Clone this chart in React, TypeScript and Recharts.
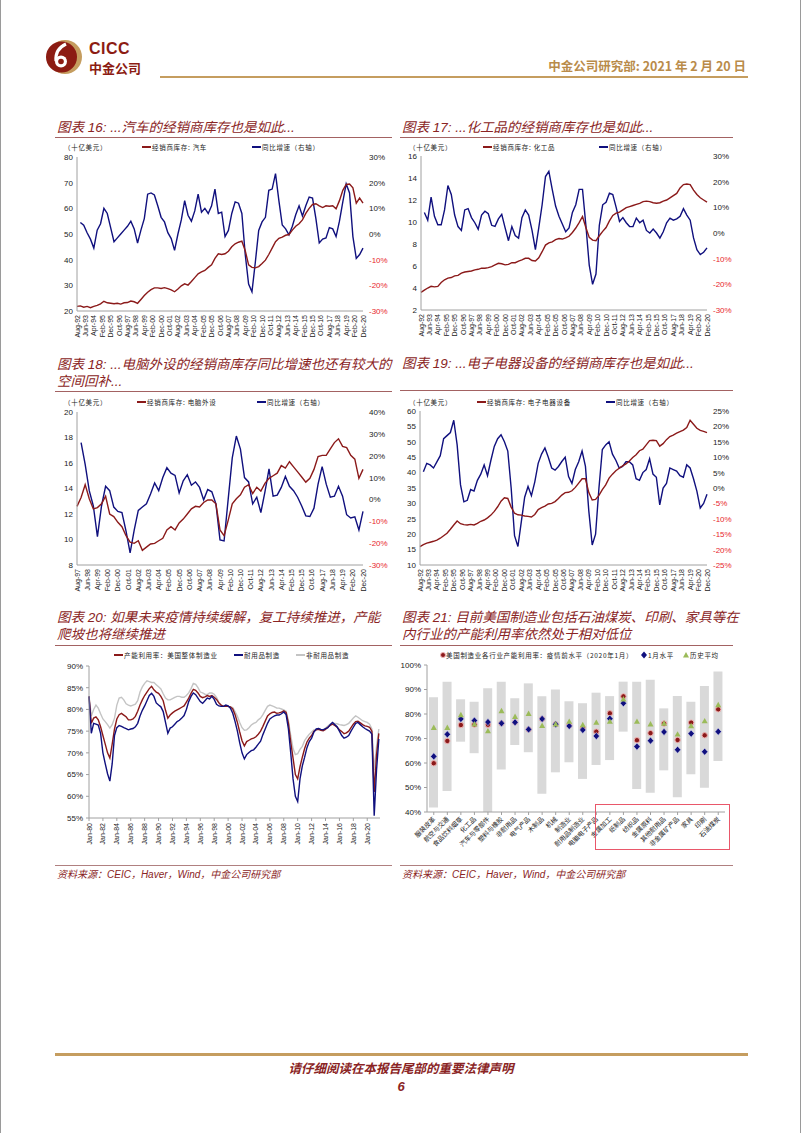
import React from 'react';
import { LineChart, Line, XAxis, YAxis, ComposedChart, Bar } from 'recharts';

const RED = '#8b1a1a';
const NAVY = '#10107e';
const GRAY = '#c4c4c4';
const TITLE = '#8a2424';
const GOLD = '#c59d5f';
const NEG = '#e8262d';
const AXIS = '#a0a0a0';
const FONT = "'Liberation Sans', Arial, 'Noto Sans CJK SC', sans-serif";
const CJK = "'Noto Sans CJK SC', 'Liberation Sans', sans-serif";

// x-axis labels (every 10 months / every 2 years)
const labels92 = ['Aug-92', 'Jun-93', 'Apr-94', 'Feb-95', 'Dec-95', 'Oct-96', 'Aug-97', 'Jun-98', 'Apr-99', 'Feb-00', 'Dec-00', 'Oct-01', 'Aug-02', 'Jun-03', 'Apr-04', 'Feb-05', 'Dec-05', 'Oct-06', 'Aug-07', 'Jun-08', 'Apr-09', 'Feb-10', 'Dec-10', 'Oct-11', 'Aug-12', 'Jun-13', 'Apr-14', 'Feb-15', 'Dec-15', 'Oct-16', 'Aug-17', 'Jun-18', 'Apr-19', 'Feb-20', 'Dec-20'];
const labels97 = ['Aug-97', 'Jun-98', 'Apr-99', 'Feb-00', 'Dec-00', 'Oct-01', 'Aug-02', 'Jun-03', 'Apr-04', 'Feb-05', 'Dec-05', 'Oct-06', 'Aug-07', 'Jun-08', 'Apr-09', 'Feb-10', 'Dec-10', 'Oct-11', 'Aug-12', 'Jun-13', 'Apr-14', 'Feb-15', 'Dec-15', 'Oct-16', 'Aug-17', 'Jun-18', 'Apr-19', 'Feb-20', 'Dec-20'];
const labels80 = ['Jan-80', 'Jan-82', 'Jan-84', 'Jan-86', 'Jan-88', 'Jan-90', 'Jan-92', 'Jan-94', 'Jan-96', 'Jan-98', 'Jan-00', 'Jan-02', 'Jan-04', 'Jan-06', 'Jan-08', 'Jan-10', 'Jan-12', 'Jan-14', 'Jan-16', 'Jan-18', 'Jan-20'];

// 图表16 汽车 - sampled every 4 months from Aug-92
const autoInv = [21.8, 22, 21.5, 21.8, 21.3, 21.8, 22.2, 22.8, 23.8, 23.2,
  23, 22.8, 23, 22.7, 23.2, 23.3, 23.9, 23.6, 23, 24.5,
  26, 27.3, 28.3, 29, 29, 28.8, 29.1, 28.7, 28.2, 27.5,
  28.6, 29.8, 30.6, 30.1, 31.5, 33, 34.5, 35.2, 35.8, 37,
  38, 40.5, 42.3, 42, 42.3, 43.3, 45, 46.2, 46.8, 47.2,
  43.5, 38, 37, 36.8, 37.3, 38.5, 39.8, 42, 44.5, 47,
  48.3, 48.8, 49.5, 49.8, 51.5, 53, 54, 55.5, 58, 60,
  61.5, 61.8, 61, 60.3, 61, 60.8, 61, 59.8, 63, 67,
  69.3, 69.5, 68, 62, 64, 62];
const autoYoy = [null, 4.5, 3.4, 0.5, -2, -5.5, 1.5, 4, 10, 8,
  2.5, -3, -1.5, 0, 1.5, 3, 5, 2, -3.5, 1.5,
  6, 15.5, 16, 15.2, 11, 6.5, 4.7, 0.5, -1.8, -6.4,
  0, 5.5, 13, 7.3, 5, 9, 15.5, 8.5, 10, 8,
  11, 17.5, 8, 8.5, -1, 1.4, 8, 12.5, 12, 8,
  -8, -19.5, -22.5, -11, 1.4, 4.7, 6.5, 17, 17.5, 23.5,
  13, 3.5, 2, -0.3, 3, 7.5, 11, 7, 11, 14.4,
  14, 6, -3.5, -2, -1.5, 2.5, 2, -1, 5, 12.5,
  19.5, 16, -1, -9.5, -8, -5.5];

// 图表17 化工品
const chemInv = [3.6, 3.8, 4, 4.15, 4.1, 4.15, 4.5, 4.75, 4.9, 4.95,
  5.1, 5.15, 5.35, 5.45, 5.5, 5.55, 5.65, 5.7, 5.8, 5.8,
  5.85, 5.95, 6.1, 6.25, 6.2, 6.1, 6.15, 6.3, 6.3, 6.45,
  6.55, 6.7, 6.7, 6.5, 6.45, 6.75, 7.3, 7.9, 8.1, 8.2,
  8.4, 8.5, 8.45, 8.55, 8.7, 9.05, 9.45, 9.95, 10.5, 9.5,
  8.6, 8.35, 8.3, 8.75, 9.15, 9.5, 10.1, 10.6, 10.8, 10.9,
  11.1, 11.3, 11.4, 11.5, 11.6, 11.7, 11.85, 11.9, 11.85, 11.75,
  11.7, 11.75, 11.9, 12, 12.2, 12.4, 12.6, 13.1, 13.4, 13.45,
  13.4, 12.9, 12.5, 12.2, 12, 11.8];
const chemYoy = [null, 8, 5, 14, 6.5, 3.2, 3.2, 9, 18.5, 15,
  7, 2.5, 1, 9, 9.5, 6, 4, 1.5, 7, 8.5,
  7.5, 3, 2.6, 5.5, 7.3, 2, -3, 2.5, -1, -2,
  6, 9, 7, 1, -6.5, 2, 11, 22, 24, 17,
  10.5, 6.5, 3.5, 0.5, 2, 8, 11, 17, 17, 3,
  -12.5, -20, -16, 3, 11, 12, 15.5, 15, 10, 4.5,
  6, 4, 2.5, 2.5, 5.8, 4, 5, 1, 0, 1.5,
  0, -2, 0.5, 4, 5.8, 5, 5.5, 6.5, 9.5, 7,
  5, -1.9, -6.5, -8.4, -7.5, -5.8];

// 图表18 电脑外设 - every 4 months from Aug-97
const pcInv = [12.6, 13.3, 14.3, 13.2, 12.4, 12.5, 12.8, 13.4, 12, 11.8,
  11.35, 11, 10.3, 9.8, 9.7, 9.9, 9.15, 9.4, 9.65, 9.7,
  9.9, 10.1, 10.75, 11, 10.75, 11.3, 11.6, 12, 12.4, 12.6,
  12.55, 12.9, 13.1, 13.1, 12.8, 10.75, 10.3, 11.5, 12.8, 13.2,
  13.5, 14.1, 14.3, 13.6, 14.1, 13.8, 14.4, 14.8, 15, 15.2,
  15.8, 15.6, 16.1, 15.7, 15.3, 14.9, 14.5, 14.8, 15.5, 16.5,
  16.6, 16.6, 17.1, 17.6, 17.9, 17.3, 17.2, 16.6, 16.3, 14.8,
  15.5];
const pcYoy = [null, 26, 16, 4, -3, -17, -3, 6, 4, -3.5,
  -5.5, -6, -14.5, -24.5, -14, -5, -3.5, -2, 2.5, 7.5,
  4, 10, 14.5, 12, 11, 3, 8.5, 11.3, 6.5, 8,
  5.5, -0.2, 4.5, 3.5, -2, -18.5, -19, 0, 19, 29,
  23, 10, 8, -2, 1, -6, 3.5, 14, 1.5, 2,
  5.5, 10.5, 6, 4, 1, -3, -7.5, -7.8, -4, 7,
  15, 7, 1, 1.5, 6, 1.5, -7, -8.5, -8, -14,
  -5.5];

// 图表19 电子电器设备
const elecInv = [16, 16.6, 17.1, 17.4, 17.7, 18.1, 18.7, 19.5, 20.3, 21.6,
  23, 24.3, 23.4, 23.1, 23, 23.2, 23, 23.5, 24.2, 24.6,
  25.3, 26.2, 27.4, 28.9, 30.7, 31.8, 31.6, 28.8, 26.8, 26.3,
  26.2, 25.9, 25.8, 25.6, 26.4, 28, 28.6, 29.1, 29.8, 30,
  30.6, 31.6, 32.7, 33.5, 33.6, 34.1, 35.2, 36.6, 38, 38,
  33.5, 31.1, 31.3, 32.6, 34.5, 36, 38.2, 39.5, 40.6, 41.4,
  42.2, 42.8, 43.8, 44.9, 45.8, 47.1, 47.6, 49, 50.4, 50.5,
  50.4, 48.6, 49.4, 50.7, 51.7, 52.2, 52.8, 53.3, 53.8, 54.6,
  57, 55.7, 54.4, 53.7, 53.4, 53];
const elecYoy = [null, 5.3, 8, 7.5, 6.5, 8.5, 10.5, 16, 17, 18,
  22, 14, 1, -4.5, -4, -0.5, -1, 2.5, 4.5, 7.5,
  4, 9, 13.5, 16, 17.3, 15, 12, 0, -15.5, -19,
  -11, -3, 0.5, -2.5, 2, 8, 11, 13, 10, 6.5,
  5.8, 7, 8.6, 10, 3.7, 1.5, 6, 8.5, 12, 7,
  -7.5, -18.5, -15, 0, 12.5, 14, 15, 11, 9, 6.5,
  7, 8.5, 8.5, 7.5, 3, 2.5, 5, 6, 9.5, 4.5,
  3.5, -5.5, 0, 1.5, 6.5, 6, 5.5, 4, 3.5, 7.5,
  6.5, 3, -1, -6.5, -5, -2];

// 图表20 产能利用率 - every 4 months from Jan-80
const cuTotal = [83, 76.8, 78, 78.3, 77.6, 76, 74, 72, 70, 68.8,
  72, 75.5, 77.8, 78.8, 79.1, 78.7, 78.3, 77.6, 77.6, 77.8,
  78.4, 79.6, 81, 82.2, 83.2, 84, 84.8, 85.3, 84.5, 84,
  83.7, 83, 82, 79.8, 78, 78.7, 79.2, 79.6, 79.9, 80.2,
  80.5, 80.8, 81.7, 82.6, 83.7, 84.6, 84.4, 83.8, 83, 82.7,
  82.9, 83.2, 83, 83.2, 82.8, 82.3, 81.5, 81, 80.7, 80.7,
  80.7, 80.6, 80.1, 78.8, 77, 74.8, 72.8, 71.6, 72.6, 72.9,
  73.2, 73.4, 73.7, 74.3, 75, 76.1, 77.3, 78.5, 79, 79.3,
  79.4, 79.1, 79.2, 79.4, 79.7, 79.3, 76.8, 72.5, 68.8, 65,
  64, 66.8, 69, 71, 72.5, 73.4, 74, 75, 75.3, 75.4,
  75.2, 75.1, 75.4, 75.9, 76.3, 76.6, 76.3, 75.9, 75.3, 74.9,
  74.4, 74.6, 75, 75.8, 76.6, 77.2, 77.3, 76.9, 76.5, 76.2,
  76.1, 75.9, 75, 61, 69.5, 74.5];
const cuDurable = [83, 74.5, 76.8, 76.6, 76.4, 74.5, 70, 67.5, 65.2, 63.5,
  67.5, 74, 75.8, 76.3, 76.1, 75.8, 75.6, 75.3, 75.5, 75.6,
  76, 76.8, 78.5, 79.8, 80.8, 82, 83.2, 83.7, 83, 81.5,
  81, 80.6, 79.5, 77, 74.5, 75.7, 76, 76.6, 77.2, 77.5,
  78, 78.6, 80, 81.8, 83, 83.8, 83.4, 82.6, 81.8, 81.4,
  82, 82.6, 82.4, 83, 82.3, 81.2, 80.8, 80.7, 80.7, 81,
  80.8, 80.3, 79.1, 77.2, 75, 72.3, 70, 68.6, 69.6, 70.1,
  70.5, 70.7, 71.3, 72, 72.7, 74.2, 75.5, 76.8, 77.8, 78.2,
  78.5, 78.7, 78.7, 79, 79.4, 78.8, 75.5, 70, 64, 60,
  58.8, 64, 67, 69, 71.2, 72.6, 73.4, 74.8, 75.5, 75.6,
  75.4, 75.3, 75.6, 75.8, 76.5, 77, 76.5, 76, 75, 74,
  73.4, 73.6, 74, 75, 75.9, 76.8, 77, 76.5, 76, 75.6,
  75.3, 75, 74.3, 55.5, 66, 73.2];
const cuNondurable = [83, 78.5, 80, 81, 80.3, 79, 77.8, 77.2, 76.5, 75.7,
  76.5, 78, 81, 82.6, 82.8, 82.2, 81.3, 81, 80.8, 81,
  81.2, 82, 84, 85.2, 86, 86.6, 86.4, 86.2, 86.2, 85.7,
  85.2, 84.7, 83.6, 82.6, 82.2, 82.2, 82.5, 82.8, 83, 83,
  82.8, 82.8, 83.2, 83.8, 84.8, 86, 85.8, 85, 84, 83.8,
  83.5, 83.4, 83.8, 83.8, 83.5, 82.8, 81.7, 80.8, 80.7, 80.7,
  80.7, 80.6, 80.4, 79.5, 78.4, 77, 75.8, 75.2, 75.3, 75.8,
  76.4, 76.8, 77, 77.6, 78, 78.8, 79.8, 80.7, 81, 80.8,
  80.6, 80.3, 80.3, 80.1, 79.9, 79.6, 77.5, 74, 71, 69.6,
  69.8, 70.8, 71.5, 72.8, 73.6, 74.3, 74.8, 75.3, 75.4, 75.6,
  75.3, 75.3, 75.7, 76.2, 76.6, 76.9, 76.8, 76.7, 76.5, 76.4,
  76.3, 76.5, 76.8, 77.4, 78, 78.5, 78.2, 77.8, 77.4, 77.2,
  77, 76.6, 75.5, 66, 71.5, 75.5];

// 图表21 各行业产能利用率
const industries = ['服装皮革', '航空与交通', '食品饮料烟草', '化工品', '汽车与零部件', '塑料与橡胶', '非耐用品', '电气产品', '木制品', '机械', '制造业', '耐用品制造业', '电脑电子产品', '金属加工', '纸制品', '纺织品', '金属原料', '其他耐用品', '非金属矿产品', '家具', '印刷', '石油煤炭'];
const histMin = [41.8, 48.6, 68.7, 64, 40, 57.3, 67.3, 64.4, 47.5, 56.2, 60.3, 53.5, 59.2, 61.2, 72.8, 49.4, 47.9, 57, 46, 55.4, 49.9, 60.8];
const histMax = [86.8, 93.2, 86, 85, 90.5, 93.2, 86.4, 92.5, 87.2, 90, 85.2, 84.4, 88.7, 87.3, 93.2, 93.2, 94, 82.3, 87.3, 85, 91.4, 97.3];
const preCovid = [59.9, 69, 75.5, 75.7, 75.6, 76.2, 76.6, 73.7, 78, 75.8, 75.3, 74.1, 72.8, 80.3, 87.2, 69.3, 72.2, 76.1, 69.4, 76.5, 71.3, 81.9];
const janLevel = [62.7, 71.7, 78, 77.3, 76.7, 76.2, 76.6, 73.7, 78, 75.8, 75.1, 73.5, 71, 78.1, 84.4, 66.7, 69.1, 72.7, 65.4, 72, 64.6, 72.8];
const histAvg = [74.4, 74.4, 79.6, 75.8, 73, 81.2, 78.9, 80.1, 75.2, 75.8, 76.9, 75.5, 76.5, 76.9, 86, 76.9, 75.8, 76.1, 71.7, 75.1, 77.1, 83.7];

function toRows(inv, yoy) {
  return inv.map((v, i) => ({ m: i * 4, inv: v, yoy: yoy[i] }));
}

const cuRows = cuTotal.map((v, i) => ({ m: i * 4, total: v, dur: cuDurable[i], non: cuNondurable[i] }));
const indRows = industries.map((name, i) => ({
  name, range: [histMin[i], histMax[i]], pre: preCovid[i], jan: janLevel[i], avg: histAvg[i],
}));

const MonthTick = (props: any) => {
  const { x, y, payload, labels, step } = props;
  const label = labels[Math.round(payload.value / step)];
  return (
    <text x={x} y={y} transform={`rotate(-90 ${x} ${y})`} textAnchor="end" dy={2.5}
      fontSize={7} fill="#222" fontFamily={FONT}>{label}</text>
  );
};

const PctTick = (props: any) => {
  const { x, y, payload } = props;
  const v = payload.value;
  return (
    <text x={x} y={y} dy={3} textAnchor="start" fontSize={8} fill={v < 0 ? NEG : '#222'} fontFamily={FONT}>{v}%</text>
  );
};

const SlantTick = (props: any) => {
  const { x, y, payload } = props;
  return (
    <text x={x} y={y} transform={`rotate(-45 ${x} ${y})`} textAnchor="end" dy={4} dx={-1}
      fontSize={6.5} fill="#222" fontFamily={CJK}>{payload.value}</text>
  );
};

function DualChart({ x, y, w, h, rows, xMax, labels, lDomain, lTicks, rDomain, rTicks }: any) {
  const xTicks = labels.map((_, i) => i * 10);
  return (
    <div style={{ position: 'absolute', left: x - 40, top: y - 8 }}>
      <LineChart width={w + 80} height={h + 8 + 40} data={rows} margin={{ top: 8, right: 0, bottom: 0, left: 0 }}>
        <XAxis dataKey="m" type="number" domain={[0, xMax]} ticks={xTicks} interval={0} height={40}
          tickLine={false} tickSize={2} tickMargin={2} axisLine={{ stroke: AXIS }}
          tick={<MonthTick labels={labels} step={10} />} />
        <YAxis yAxisId="l" domain={lDomain} ticks={lTicks} interval={0} width={40} allowDataOverflow
          tickLine={false} tickSize={2} tickMargin={2} axisLine={{ stroke: AXIS }}
          tick={{ fontSize: 8, fill: '#222', fontFamily: FONT }} />
        <YAxis yAxisId="r" orientation="right" domain={rDomain} ticks={rTicks} interval={0} width={40} allowDataOverflow
          tickLine={false} tickSize={4} tickMargin={2} axisLine={false} tick={<PctTick />} />
        <Line yAxisId="r" dataKey="yoy" stroke={NAVY} strokeWidth={1.4} dot={false} activeDot={false} isAnimationActive={false} />
        <Line yAxisId="l" dataKey="inv" stroke={RED} strokeWidth={1.4} dot={false} activeDot={false} isAnimationActive={false} />
      </LineChart>
    </div>
  );
}

const Title = ({ x, y, lines }: any) => (
  <div style={{ position: 'absolute', left: x, top: y, color: TITLE, fontSize: 13.5, fontStyle: 'italic',
    lineHeight: '17px', fontFamily: FONT, whiteSpace: 'nowrap' }}>
    {lines.map((l, i) => <div key={i}>{l}</div>)}
  </div>
);

const HLine = ({ x, y, w, color = '#a36262', h = 1 }: any) => (
  <div style={{ position: 'absolute', left: x, top: y, width: w, height: h, background: color }} />
);

const LegText = ({ x, y, text }: any) => (
  <div style={{ position: 'absolute', left: x, top: y - 6, lineHeight: '12px', fontSize: 6.5, letterSpacing: 0.7,
    color: '#222', fontFamily: CJK, whiteSpace: 'nowrap' }}>{text}</div>
);

const LegLine = ({ x, y, color, text }: any) => (
  <div style={{ position: 'absolute', left: x, top: y - 6, height: 12, display: 'flex', alignItems: 'center', whiteSpace: 'nowrap' }}>
    <span style={{ display: 'inline-block', width: 9, height: 2, background: color, marginRight: 1 }} />
    <span style={{ fontSize: 6.5, letterSpacing: 0.7, color: '#222', fontFamily: CJK }}>{text}</span>
  </div>
);

const redDot = (p: any) => (p.cx == null ? <g key={`r${p.index}`} /> :
  <circle key={`r${p.index}`} cx={p.cx} cy={p.cy} r={2.7} fill={RED} stroke="#f0b4b4" strokeWidth={1} />);
const navyDot = (p: any) => (p.cx == null ? <g key={`n${p.index}`} /> :
  <path key={`n${p.index}`} d={`M${p.cx},${p.cy - 3.6}L${p.cx + 3.2},${p.cy}L${p.cx},${p.cy + 3.6}L${p.cx - 3.2},${p.cy}Z`}
    fill={NAVY} stroke="#d6d6f4" strokeWidth={0.6} />);
const greenDot = (p: any) => (p.cx == null ? <g key={`g${p.index}`} /> :
  <path key={`g${p.index}`} d={`M${p.cx},${p.cy - 3.2}L${p.cx + 3},${p.cy + 2.2}L${p.cx - 3},${p.cy + 2.2}Z`} fill="#9bbb59" />);

export default function App() {
  return (
    <div style={{ position: 'absolute', left: 0, top: 0, width: 802, height: 1133, background: '#fff',
      overflow: 'hidden', fontFamily: FONT }}>
      {/* page edges */}
      <div style={{ position: 'absolute', left: 0, top: 0, width: 1, height: 1133, background: '#9a9a9a' }} />
      <div style={{ position: 'absolute', left: 800, top: 0, width: 1, height: 1133, background: '#9a9a9a' }} />

      {/* header */}
      <svg style={{ position: 'absolute', left: 46, top: 39 }} width={36} height={36} viewBox="0 0 36 36">
        <circle cx={19} cy={18} r={17} fill={GOLD} />
        <circle cx={15.5} cy={18} r={15.5} fill="#8c1c13" />
        <path d="M 10 22 Q 9 10 20 5" stroke="#fff" strokeWidth={3.2} fill="none" />
        <circle cx={15} cy={22.5} r={6} fill="#fff" />
        <circle cx={15} cy={22.5} r={2.8} fill="#8c1c13" />
      </svg>
      <div style={{ position: 'absolute', left: 89, top: 41, fontSize: 16, fontWeight: 700, color: '#8c1c13',
        fontFamily: "'Liberation Sans', sans-serif", lineHeight: '16px', letterSpacing: 0.5 }}>CICC</div>
      <div style={{ position: 'absolute', left: 89, top: 60, fontSize: 13, fontWeight: 700, color: '#8c1c13',
        fontFamily: CJK, lineHeight: '16px' }}>中金公司</div>
      <div style={{ position: 'absolute', right: 56, top: 58, fontSize: 12.5, fontWeight: 700, color: '#b98b4a',
        fontFamily: CJK, lineHeight: '16px', whiteSpace: 'nowrap' }}>中金公司研究部: 2021 年 2 月 20 日</div>
      <HLine x={160} y={76} w={588} h={2} color={GOLD} />

      {/* 图表16 */}
      <Title x={57} y={119} lines={['图表 16: ...汽车的经销商库存也是如此...']} />
      <HLine x={55} y={137} w={337} />
      <LegText x={64} y={147} text="（十亿美元）" />
      <LegLine x={142} y={147} color={RED} text="经销商库存: 汽车" />
      <LegLine x={252} y={147} color={NAVY} text="同比增速（右轴）" />
      <DualChart x={77} y={157} w={286} h={154} rows={toRows(autoInv, autoYoy)} xMax={340} labels={labels92}
        lDomain={[20, 80]} lTicks={[20, 30, 40, 50, 60, 70, 80]}
        rDomain={[-30, 30]} rTicks={[-30, -20, -10, 0, 10, 20, 30]} />

      {/* 图表17 */}
      <Title x={402} y={119} lines={['图表 17: ...化工品的经销商库存也是如此...']} />
      <HLine x={400} y={137} w={333} />
      <LegText x={409} y={147} text="（十亿美元）" />
      <LegLine x={483} y={147} color={RED} text="经销商库存: 化工品" />
      <LegLine x={599} y={147} color={NAVY} text="同比增速（右轴）" />
      <DualChart x={421} y={156} w={286} h={154} rows={toRows(chemInv, chemYoy)} xMax={340} labels={labels92}
        lDomain={[2, 16]} lTicks={[2, 4, 6, 8, 10, 12, 14, 16]}
        rDomain={[-30, 30]} rTicks={[-30, -20, -10, 0, 10, 20, 30]} />

      {/* 图表18 */}
      <Title x={57} y={356} lines={['图表 18: ...电脑外设的经销商库存同比增速也还有较大的', '空间回补...']} />
      <HLine x={55} y={391} w={337} />
      <LegText x={64} y={402} text="（十亿美元）" />
      <LegLine x={137} y={402} color={RED} text="经销商库存: 电脑外设" />
      <LegLine x={257} y={402} color={NAVY} text="同比增速（右轴）" />
      <DualChart x={77} y={412} w={286} h={153} rows={toRows(pcInv, pcYoy)} xMax={280} labels={labels97}
        lDomain={[8, 20]} lTicks={[8, 10, 12, 14, 16, 18, 20]}
        rDomain={[-30, 40]} rTicks={[-30, -20, -10, 0, 10, 20, 30, 40]} />

      {/* 图表19 */}
      <Title x={402} y={355} lines={['图表 19: ...电子电器设备的经销商库存也是如此...']} />
      <HLine x={400} y={390} w={333} />
      <LegText x={409} y={402} text="（十亿美元）" />
      <LegLine x={477} y={402} color={RED} text="经销商库存: 电子电器设备" />
      <LegLine x={606} y={402} color={NAVY} text="同比增速（右轴）" />
      <DualChart x={420} y={411} w={287} h={154} rows={toRows(elecInv, elecYoy)} xMax={340} labels={labels92}
        lDomain={[10, 60]} lTicks={[10, 15, 20, 25, 30, 35, 40, 45, 50, 55, 60]}
        rDomain={[-25, 25]} rTicks={[-25, -20, -15, -10, -5, 0, 5, 10, 15, 20, 25]} />

      {/* 图表20 */}
      <Title x={57} y={609} lines={['图表 20: 如果未来疫情持续缓解，复工持续推进，产能', '爬坡也将继续推进']} />
      <HLine x={55} y={645} w={337} />
      <LegLine x={114} y={655} color={RED} text="产能利用率：美国整体制造业" />
      <LegLine x={234} y={655} color={NAVY} text="耐用品制造" />
      <LegLine x={296} y={655} color={GRAY} text="非耐用品制造" />
      <div style={{ position: 'absolute', left: 89 - 40, top: 666 - 8 }}>
        <LineChart width={291 + 40 + 4} height={152 + 8 + 40} data={cuRows} margin={{ top: 8, right: 4, bottom: 0, left: 0 }}>
          <XAxis dataKey="m" type="number" domain={[0, 502]} ticks={labels80.map((_, i) => i * 24)} interval={0} height={40}
            tickLine={{ stroke: AXIS }} tickSize={3} tickMargin={2} axisLine={{ stroke: AXIS }}
            tick={<MonthTick labels={labels80} step={24} />} />
          <YAxis domain={[55, 90]} ticks={[55, 60, 65, 70, 75, 80, 85, 90]} interval={0} width={40} allowDataOverflow
            tickFormatter={(v) => `${v}%`} tickLine={{ stroke: AXIS }} tickSize={3} tickMargin={3} axisLine={{ stroke: AXIS }}
            tick={{ fontSize: 8, fill: '#222', fontFamily: FONT }} />
          <Line dataKey="non" stroke={GRAY} strokeWidth={1.4} dot={false} activeDot={false} isAnimationActive={false} />
          <Line dataKey="total" stroke={RED} strokeWidth={1.4} dot={false} activeDot={false} isAnimationActive={false} />
          <Line dataKey="dur" stroke={NAVY} strokeWidth={1.4} dot={false} activeDot={false} isAnimationActive={false} />
        </LineChart>
      </div>
      <HLine x={55} y={865} w={337} color="#b08080" />
      <div style={{ position: 'absolute', left: 57, top: 866, fontSize: 10, fontStyle: 'italic', color: TITLE,
        fontFamily: FONT, whiteSpace: 'nowrap' }}>资料来源：CEIC，Haver，Wind，中金公司研究部</div>

      {/* 图表21 */}
      <Title x={402} y={609} lines={['图表 21: 目前美国制造业包括石油煤炭、印刷、家具等在', '内行业的产能利用率依然处于相对低位']} />
      <HLine x={400} y={645} w={333} />
      <svg style={{ position: 'absolute', left: 439, top: 651 }} width={8} height={8}>
        <circle cx={4} cy={4} r={2.5} fill={RED} stroke="#f0b4b4" strokeWidth={1} />
      </svg>
      <LegText x={446} y={655} text="美国制造业各行业产能利用率：疫情前水平（2020年1月）" />
      <svg style={{ position: 'absolute', left: 640, top: 651 }} width={8} height={8}>
        <path d="M4,0.5L7,4L4,7.5L1,4Z" fill={NAVY} />
      </svg>
      <LegText x={648} y={655} text="1月水平" />
      <svg style={{ position: 'absolute', left: 682, top: 651 }} width={8} height={8}>
        <path d="M4,1L7,6.5L1,6.5Z" fill="#9bbb59" />
      </svg>
      <LegText x={690} y={655} text="历史平均" />
      <div style={{ position: 'absolute', left: 427 - 40, top: 665 - 8 }}>
        <ComposedChart width={298 + 40} height={147 + 8 + 50} data={indRows} margin={{ top: 8, right: 0, bottom: 0, left: 0 }}>
          <XAxis dataKey="name" interval={0} height={50} tickLine={{ stroke: AXIS }} tickSize={3} tickMargin={1}
            axisLine={{ stroke: AXIS }} tick={<SlantTick />} />
          <YAxis domain={[40, 100]} ticks={[40, 50, 60, 70, 80, 90, 100]} interval={0} width={40} allowDataOverflow
            tickFormatter={(v) => `${v}%`} tickLine={{ stroke: AXIS }} tickSize={3} tickMargin={3} axisLine={{ stroke: AXIS }}
            tick={{ fontSize: 8, fill: '#222', fontFamily: FONT }} />
          <Bar dataKey="range" fill="#d9d9d9" barSize={9} isAnimationActive={false} />
          <Line dataKey="pre" stroke="none" dot={redDot} activeDot={false} isAnimationActive={false} />
          <Line dataKey="jan" stroke="none" dot={navyDot} activeDot={false} isAnimationActive={false} />
          <Line dataKey="avg" stroke="none" dot={greenDot} activeDot={false} isAnimationActive={false} />
        </ComposedChart>
      </div>
      <div style={{ position: 'absolute', left: 595, top: 804, width: 133, height: 44, border: '1px solid #e9576a' }} />
      <HLine x={400} y={865} w={333} color="#b08080" />
      <div style={{ position: 'absolute', left: 402, top: 866, fontSize: 10, fontStyle: 'italic', color: TITLE,
        fontFamily: FONT, whiteSpace: 'nowrap' }}>资料来源：CEIC，Haver，Wind，中金公司研究部</div>

      {/* footer */}
      <HLine x={55} y={1053} w={693} h={3} color={GOLD} />
      <div style={{ position: 'absolute', left: 0, width: 802, top: 1060, textAlign: 'center', fontSize: 12.5,
        fontWeight: 700, fontStyle: 'italic', color: TITLE, fontFamily: CJK, lineHeight: '16px' }}>
        请仔细阅读在本报告尾部的重要法律声明
      </div>
      <div style={{ position: 'absolute', left: 0, width: 802, top: 1079, textAlign: 'center', fontSize: 13,
        fontWeight: 700, fontStyle: 'italic', color: TITLE, fontFamily: FONT, lineHeight: '16px' }}>6</div>
    </div>
  );
}
